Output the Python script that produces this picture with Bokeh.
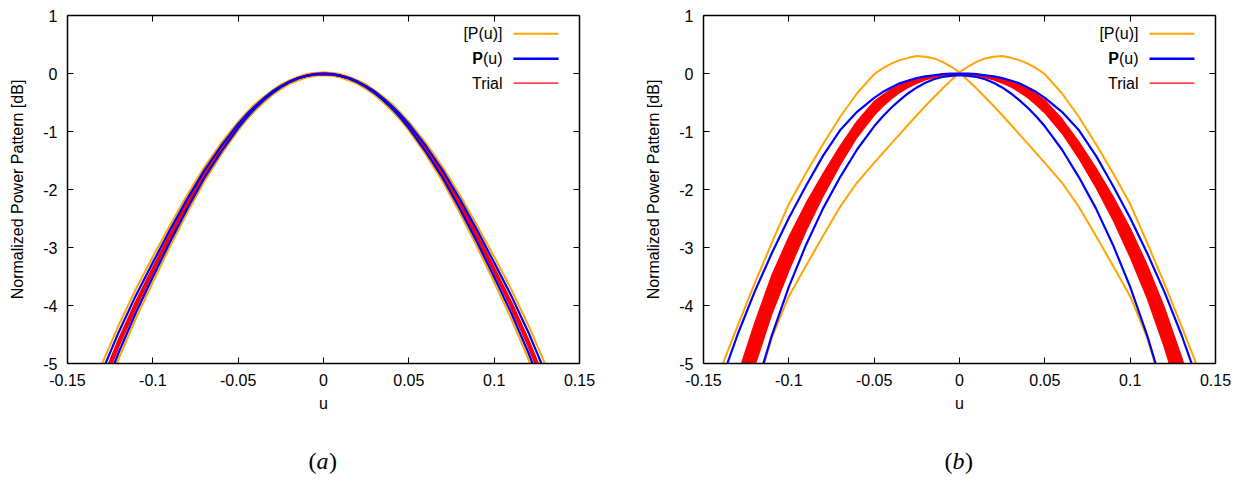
from bokeh.plotting import figure
from bokeh.layouts import row, column
from bokeh.models import Range1d, FixedTicker, LinearAxis, Label, Arrow
from bokeh.embed import file_html
from bokeh.resources import INLINE

# ---------------- data ----------------
u = [-0.15, -0.14, -0.13, -0.12, -0.11, -0.10, -0.09, -0.08, -0.07, -0.06, -0.05,
     -0.045, -0.04, -0.035, -0.03, -0.025, -0.02, -0.015, -0.01, -0.005, 0.00,
     0.005, 0.01, 0.015, 0.02, 0.025, 0.03, 0.035, 0.04, 0.045,
     0.05, 0.06, 0.07, 0.08, 0.09, 0.10, 0.11, 0.12, 0.13, 0.14, 0.15]

x_ticks = [-0.15, -0.1, -0.05, 0, 0.05, 0.1, 0.15]
x_tick_labels = ["-0.15", "-0.1", "-0.05", "0", "0.05", "0.1", "0.15"]
y_ticks = [-5, -4, -3, -2, -1, 0, 1]
y_tick_labels = ["-5", "-4", "-3", "-2", "-1", "0", "1"]

# panel (a)
a_bound_hi = [-6.57, -5.76, -5.02, -4.34, -3.72, -3.16, -2.62, -2.10, -1.62, -1.20, -0.83,
              -0.67, -0.52, -0.40, -0.29, -0.19, -0.12, -0.06, -0.01, 0.01, 0.02,
              0.01, -0.01, -0.06, -0.12, -0.19, -0.29, -0.40, -0.52, -0.67,
              -0.83, -1.20, -1.62, -2.10, -2.62, -3.16, -3.72, -4.34, -5.02, -5.76, -6.57]
a_bound_lo = [-7.43, -6.52, -5.69, -4.92, -4.23, -3.60, -2.99, -2.41, -1.87, -1.40, -0.98,
              -0.80, -0.64, -0.50, -0.37, -0.27, -0.18, -0.12, -0.07, -0.04, -0.03,
              -0.04, -0.07, -0.12, -0.18, -0.27, -0.37, -0.50, -0.64, -0.80,
              -0.98, -1.40, -1.87, -2.41, -2.99, -3.60, -4.23, -4.92, -5.69, -6.52, -7.43]
a_pat_hi = [-6.75, -5.92, -5.16, -4.46, -3.83, -3.26, -2.70, -2.17, -1.68, -1.25, -0.87,
            -0.705, -0.56, -0.43, -0.31, -0.22, -0.14, -0.08, -0.04, -0.01, 0.00,
            -0.01, -0.04, -0.08, -0.14, -0.22, -0.31, -0.43, -0.56, -0.705,
            -0.87, -1.25, -1.68, -2.17, -2.70, -3.26, -3.83, -4.46, -5.16, -5.92, -6.75]
a_pat_lo = [-7.27, -6.38, -5.57, -4.81, -4.13, -3.51, -2.91, -2.34, -1.81, -1.35, -0.94,
            -0.76, -0.60, -0.46, -0.34, -0.235, -0.15, -0.085, -0.04, -0.015, -0.01,
            -0.015, -0.04, -0.085, -0.15, -0.235, -0.34, -0.46, -0.60, -0.76,
            -0.94, -1.35, -1.81, -2.34, -2.91, -3.51, -4.13, -4.81, -5.57, -6.38, -7.27]
a_trial_hi = [-6.96, -6.10, -5.32, -4.60, -3.95, -3.36, -2.78, -2.24, -1.73, -1.29, -0.90,
              -0.727, -0.57, -0.44, -0.32, -0.224, -0.14, -0.081, -0.04, -0.01, 0.00,
              -0.01, -0.04, -0.081, -0.14, -0.224, -0.32, -0.44, -0.57, -0.727,
              -0.90, -1.29, -1.73, -2.24, -2.78, -3.36, -3.95, -4.60, -5.32, -6.10, -6.96]
a_trial_lo = [-7.09, -6.22, -5.43, -4.69, -4.03, -3.42, -2.84, -2.28, -1.77, -1.32, -0.91,
              -0.741, -0.59, -0.448, -0.33, -0.229, -0.15, -0.082, -0.04, -0.012, -0.01,
              -0.012, -0.04, -0.082, -0.15, -0.229, -0.33, -0.448, -0.59, -0.741,
              -0.91, -1.32, -1.77, -2.28, -2.84, -3.42, -4.03, -4.69, -5.43, -6.22, -7.09]

# panel (b)
b_bound_hi = [-5.90, -5.10, -4.35, -3.62, -2.92, -2.25, -1.72, -1.22, -0.75, -0.34, -0.01,
              0.09, 0.17, 0.23, 0.27, 0.30, 0.29, 0.26, 0.20, 0.12, 0.02,
              0.12, 0.20, 0.26, 0.29, 0.30, 0.27, 0.23, 0.17, 0.09,
              -0.01, -0.34, -0.75, -1.22, -1.72, -2.25, -2.92, -3.62, -4.35, -5.10, -5.90]
b_bound_lo = [-9.10, -7.90, -6.65, -5.54, -4.56, -3.84, -3.32, -2.80, -2.30, -1.88, -1.54,
              -1.375, -1.21, -1.045, -0.88, -0.72, -0.56, -0.41, -0.26, -0.12, 0.02,
              -0.12, -0.26, -0.41, -0.56, -0.72, -0.88, -1.045, -1.21, -1.375,
              -1.54, -1.88, -2.30, -2.80, -3.32, -3.84, -4.56, -5.54, -6.65, -7.90, -9.10]
b_pat_hi = [-6.25, -5.33, -4.50, -3.76, -3.10, -2.49, -1.94, -1.42, -0.98, -0.66, -0.42,
            -0.32, -0.24, -0.17, -0.12, -0.08, -0.05, -0.03, -0.01, 0.00, 0.00,
            0.00, -0.01, -0.03, -0.05, -0.08, -0.12, -0.17, -0.24, -0.32,
            -0.42, -0.66, -0.98, -1.42, -1.94, -2.49, -3.10, -3.76, -4.50, -5.33, -6.25]
b_pat_lo = [-9.00, -7.80, -6.60, -5.50, -4.52, -3.68, -2.96, -2.33, -1.79, -1.31, -0.91,
            -0.74, -0.59, -0.46, -0.34, -0.24, -0.16, -0.10, -0.06, -0.04, -0.03,
            -0.04, -0.06, -0.10, -0.16, -0.24, -0.34, -0.46, -0.59, -0.74,
            -0.91, -1.31, -1.79, -2.33, -2.96, -3.68, -4.52, -5.50, -6.60, -7.80, -9.00]
b_trial_hi = [-7.30, -6.20, -5.20, -4.30, -3.48, -2.82, -2.24, -1.73, -1.25, -0.82, -0.48,
              -0.37, -0.27, -0.20, -0.14, -0.095, -0.06, -0.035, -0.015, -0.005, 0.00,
              -0.005, -0.015, -0.035, -0.06, -0.095, -0.14, -0.195, -0.26, -0.355,
              -0.46, -0.78, -1.18, -1.63, -2.12, -2.67, -3.30, -4.03, -4.88, -5.80, -6.80]
b_trial_lo = [-8.20, -7.10, -6.00, -5.05, -4.15, -3.40, -2.72, -2.12, -1.58, -1.10, -0.72,
              -0.57, -0.44, -0.33, -0.24, -0.17, -0.11, -0.07, -0.04, -0.025, -0.02,
              -0.025, -0.04, -0.07, -0.11, -0.165, -0.23, -0.32, -0.42, -0.545,
              -0.68, -1.03, -1.47, -1.97, -2.53, -3.17, -3.88, -4.72, -5.68, -6.70, -7.80]

ORANGE = "#ffa500"
BLUE = "#0000ff"
RED = "#ff0000"
FONT = "Liberation Sans"

FW, FH = 512, 348
MAIN_H = 440
CAP_H = 483 - MAIN_H


def style_axis(ax, ticks, labels, show_labels):
    ax.ticker = FixedTicker(ticks=ticks)
    ax.axis_line_width = 1.5
    ax.axis_line_color = "#000000"
    ax.major_tick_in = 6
    ax.major_tick_out = 0
    ax.major_tick_line_width = 1
    ax.minor_tick_in = 0
    ax.minor_tick_out = 0
    if show_labels:
        ax.major_label_overrides = {t: l for t, l in zip(ticks, labels)}
        ax.major_label_text_font = FONT
        ax.major_label_text_font_size = "16px"
        ax.major_label_text_color = "#000000"
        ax.axis_label_text_font = FONT
        ax.axis_label_text_font_size = "16px"
        ax.axis_label_text_font_style = "normal"
        ax.axis_label_text_color = "#000000"
    else:
        ax.major_label_overrides = {t: "" for t in ticks}
        ax.major_label_text_font_size = "0px"
        ax.major_label_standoff = 0


def make_panel(width, left, right, bound_hi, bound_lo, pat_hi, pat_lo, trial_hi, trial_lo, band_edge_w):
    p = figure(width=width, height=MAIN_H, x_range=Range1d(-0.15, 0.15), y_range=Range1d(-5, 1),
               output_backend="svg", toolbar_location=None,
               x_axis_label="u", y_axis_label="Normalized Power Pattern [dB]")
    p.min_border_left = left
    p.min_border_right = right
    p.min_border_top = 15
    p.min_border_bottom = MAIN_H - 15 - FH
    p.outline_line_color = None
    p.background_fill_color = "white"
    p.border_fill_color = "white"
    p.xgrid.visible = False
    p.ygrid.visible = False

    style_axis(p.xaxis[0], x_ticks, x_tick_labels, True)
    style_axis(p.yaxis[0], y_ticks, y_tick_labels, True)
    p.xaxis[0].major_label_standoff = 10
    p.xaxis[0].axis_label_standoff = 6
    p.yaxis[0].major_label_standoff = 10
    p.yaxis[0].axis_label_standoff = 14

    top = LinearAxis()
    style_axis(top, x_ticks, x_tick_labels, False)
    p.add_layout(top, "above")
    rgt = LinearAxis()
    style_axis(rgt, y_ticks, y_tick_labels, False)
    p.add_layout(rgt, "right")

    # curves
    p.line(u, bound_hi, line_color=ORANGE, line_width=2)
    p.line(u, bound_lo, line_color=ORANGE, line_width=2)
    p.varea(x=u, y1=trial_lo, y2=trial_hi, fill_color=RED)
    p.line(u, trial_hi, line_color=RED, line_width=band_edge_w)
    p.line(u, trial_lo, line_color=RED, line_width=band_edge_w)
    p.line(u, pat_hi, line_color=BLUE, line_width=2.2)
    p.line(u, pat_lo, line_color=BLUE, line_width=2.2)

    # legend (text left, sample right)
    rows_y = [FH - 18.3, FH - 43.3, FH - 67.7]
    txt_x = FW - 77
    p.add_layout(Label(x=txt_x, y=rows_y[0], x_units="screen", y_units="screen", text="[P(u)]",
                       text_align="right", text_baseline="middle", text_font=FONT,
                       text_font_size="16px", text_color="#000000"))
    p.add_layout(Label(x=txt_x, y=rows_y[1], x_units="screen", y_units="screen", text="(u)",
                       text_align="right", text_baseline="middle", text_font=FONT,
                       text_font_size="16px", text_color="#000000"))
    p.add_layout(Label(x=txt_x - 19.6, y=rows_y[1], x_units="screen", y_units="screen", text="P",
                       text_align="right", text_baseline="middle", text_font=FONT,
                       text_font_size="16px", text_font_style="bold", text_color="#000000"))
    p.add_layout(Label(x=txt_x, y=rows_y[2], x_units="screen", y_units="screen", text="Trial",
                       text_align="right", text_baseline="middle", text_font=FONT,
                       text_font_size="16px", text_color="#000000"))
    for yy, col, lw in zip(rows_y, [ORANGE, BLUE, RED], [2, 2.5, 1.2]):
        p.add_layout(Arrow(end=None, x_start=FW - 66, y_start=yy, x_end=FW - 21, y_end=yy,
                           start_units="screen", end_units="screen", line_color=col, line_width=lw))
    return p


def make_caption(width, center_x, letter):
    c = figure(width=width, height=CAP_H, x_range=Range1d(0, width), y_range=Range1d(0, CAP_H),
               output_backend="svg", toolbar_location=None, min_border=0)
    c.axis.visible = False
    c.grid.visible = False
    c.outline_line_color = None
    c.background_fill_color = "white"
    c.border_fill_color = "white"
    y = CAP_H - 20
    kw = dict(x_units="screen", y_units="screen", y=y, text_baseline="middle",
              text_font="Liberation Serif", text_font_size="24px", text_color="#000000")
    c.add_layout(Label(x=center_x - 14, text="(", text_align="left", **kw))
    c.add_layout(Label(x=center_x - 6, text=letter, text_align="left", text_font_style="italic", **kw))
    c.add_layout(Label(x=center_x + 6.5, text=")", text_align="left", **kw))
    return c


pa = make_panel(622, 67, 43, a_bound_hi, a_bound_lo, a_pat_hi, a_pat_lo, a_trial_hi, a_trial_lo, 2.5)
pb = make_panel(623, 81, 30, b_bound_hi, b_bound_lo, b_pat_hi, b_pat_lo, b_trial_hi, b_trial_lo, 1.2)
ca = make_caption(622, 322, "a")
cb = make_caption(623, 958 - 622, "b")

layout = column(row(pa, pb), row(ca, cb))
open("out.html", "w").write(file_html(layout, INLINE))
